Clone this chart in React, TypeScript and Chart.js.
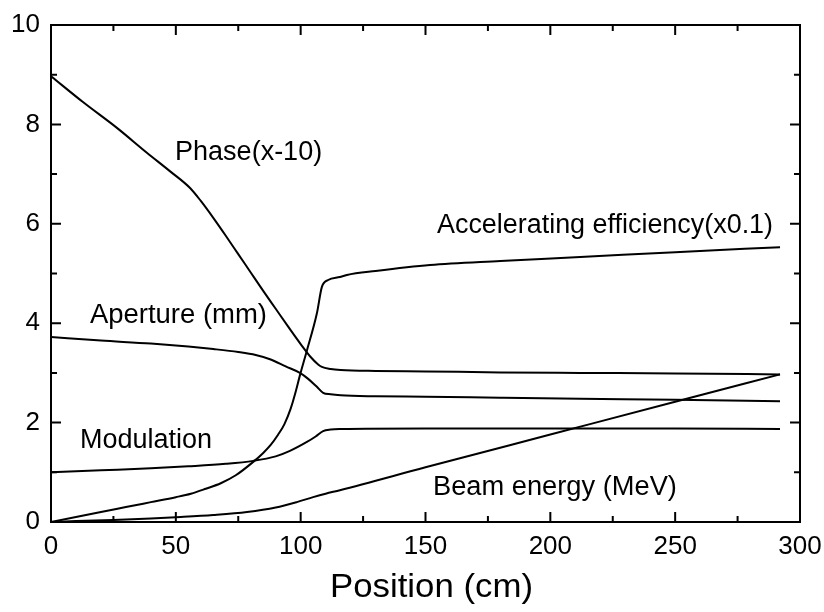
import React, { useEffect, useRef } from "react";
import { Chart, registerables } from "chart.js";

Chart.register(...registerables);

// ---- Data ----
const phaseX = [0, 12.8, 26.4, 38.4, 47.6, 55.7, 60, 65, 70, 75, 80, 85, 90, 95, 100, 104, 107, 108.5, 112, 116, 130, 150, 180, 212, 250, 292];
const phaseY = [8.97, 8.45, 7.93, 7.43, 7.06, 6.72, 6.46, 6.12, 5.76, 5.39, 5.02, 4.65, 4.29, 3.93, 3.58, 3.32, 3.17, 3.12, 3.08, 3.06, 3.04, 3.03, 3.01, 3.0, 2.99, 2.97];

const apertureX = [0, 20, 40, 55, 65, 75, 82, 88, 94, 99.7, 103, 106.5, 109, 112, 116, 130, 150, 180, 212, 250, 292];
const apertureY = [3.72, 3.65, 3.59, 3.53, 3.48, 3.42, 3.36, 3.27, 3.13, 3.0, 2.88, 2.72, 2.6, 2.57, 2.55, 2.53, 2.52, 2.5, 2.48, 2.46, 2.43];

const modulationX = [0, 20, 40, 55, 70, 81, 90, 95.7, 102.5, 106, 109, 112, 116, 150, 212, 250, 292];
const modulationY = [1.0, 1.04, 1.08, 1.12, 1.17, 1.23, 1.32, 1.43, 1.61, 1.72, 1.83, 1.86, 1.87, 1.88, 1.88, 1.88, 1.87];

const accEffX = [0, 10, 20, 30, 40, 50, 56, 62, 68, 74, 81, 85, 88, 91, 93.5, 96, 98, 99.7, 102.5, 106.5, 108.5, 111, 115.7, 118.5, 130, 151.8, 180, 212, 250, 292];
const accEffY = [0, 0.1, 0.2, 0.3, 0.4, 0.5, 0.57, 0.67, 0.78, 0.94, 1.21, 1.39, 1.55, 1.76, 1.97, 2.28, 2.62, 2.95, 3.45, 4.2, 4.73, 4.87, 4.93, 4.97, 5.05, 5.17, 5.25, 5.33, 5.43, 5.53];

const beamX = [0, 10, 25, 40, 52, 65, 78.5, 90, 98.5, 105, 110, 115.7, 150, 200, 250, 292];
const beamY = [0, 0.02, 0.04, 0.07, 0.1, 0.14, 0.2, 0.29, 0.4, 0.5, 0.57, 0.64, 1.1, 1.76, 2.42, 2.97];

const xTickValues = [0, 50, 100, 150, 200, 250, 300];
const yTickValues = [0, 2, 4, 6, 8, 10];
const xTitle = "Position (cm)";

// curve labels: text, left / right edge (x units) and baseline (y units)
const curveLabels = [
  { text: "Phase(x-10)", x0: 49.7, x1: 108.6, y: 7.28 },
  { text: "Aperture (mm)", x0: 15.6, x1: 86.5, y: 4.0 },
  { text: "Modulation", x0: 11.6, x1: 64.5, y: 1.49 },
  { text: "Accelerating efficiency(x0.1)", x0: 154.6, x1: 289.2, y: 5.81 },
  { text: "Beam energy (MeV)", x0: 153, x1: 250.7, y: 0.54 },
];

const FONT = "'Liberation Sans', Arial, Helvetica, sans-serif";

const toPoints = (xs: number[], ys: number[]) => xs.map((x, i) => ({ x, y: ys[i] }));

const framePlugin = {
  id: "frameTicks",
  afterDraw(chart: any) {
    const { ctx, chartArea } = chart;
    const xs = chart.scales.x;
    const ys = chart.scales.y;
    const { left, right, top, bottom } = chartArea;
    ctx.save();
    ctx.strokeStyle = "#000";
    ctx.lineWidth = 2;
    ctx.strokeRect(left, top, right - left, bottom - top);
    ctx.beginPath();
    for (let v = 25; v < 300; v += 25) {
      const px = xs.getPixelForValue(v);
      const len = v % 50 === 0 ? 10 : 6;
      ctx.moveTo(px, bottom);
      ctx.lineTo(px, bottom - len);
      ctx.moveTo(px, top);
      ctx.lineTo(px, top + len);
    }
    for (let v = 1; v < 10; v += 1) {
      const py = ys.getPixelForValue(v);
      const len = v % 2 === 0 ? 10 : 6;
      ctx.moveTo(left, py);
      ctx.lineTo(left + len, py);
      ctx.moveTo(right, py);
      ctx.lineTo(right - len, py);
    }
    ctx.stroke();

    ctx.fillStyle = "#000";
    ctx.textAlign = "left";
    ctx.textBaseline = "alphabetic";
    ctx.font = `27px ${FONT}`;
    curveLabels.forEach((l) => {
      const px0 = xs.getPixelForValue(l.x0);
      const px1 = xs.getPixelForValue(l.x1);
      const w = ctx.measureText(l.text).width;
      ctx.save();
      ctx.translate(px0, ys.getPixelForValue(l.y));
      ctx.scale((px1 - px0) / w, 1);
      ctx.fillText(l.text, 0, 0);
      ctx.restore();
    });

    // axis title
    ctx.font = `33px ${FONT}`;
    const tw = ctx.measureText(xTitle).width;
    ctx.save();
    ctx.translate(330, 597);
    ctx.scale(203 / tw, 1);
    ctx.fillText(xTitle, 0, 0);
    ctx.restore();
    ctx.restore();
  },
};

export default function App() {
  const canvasRef = useRef<HTMLCanvasElement | null>(null);

  useEffect(() => {
    if (!canvasRef.current) return;
    Chart.defaults.font.family = FONT;
    const mk = (label: string, xs: number[], ys: number[]) => ({
      label,
      data: toPoints(xs, ys),
      borderColor: "#000",
      borderWidth: 2,
      pointRadius: 0,
      fill: false,
      cubicInterpolationMode: "monotone" as const,
    });
    const chart = new Chart(canvasRef.current, {
      type: "line",
      data: {
        datasets: [
          mk("Phase(x-10)", phaseX, phaseY),
          mk("Aperture (mm)", apertureX, apertureY),
          mk("Modulation", modulationX, modulationY),
          mk("Accelerating efficiency(x0.1)", accEffX, accEffY),
          mk("Beam energy (MeV)", beamX, beamY),
        ],
      },
      options: {
        animation: false,
        responsive: false,
        devicePixelRatio: 1,
        layout: { padding: { top: 25, right: 24, left: 0, bottom: 0 } },
        plugins: { legend: { display: false }, tooltip: { enabled: false } },
        scales: {
          x: {
            type: "linear",
            min: 0,
            max: 300,
            afterFit: (s: any) => { s.height = 90; s.paddingLeft = 0; s.paddingRight = 0; },
            afterBuildTicks: (s: any) => { s.ticks = xTickValues.map((v) => ({ value: v })); },
            grid: { display: false, drawTicks: false },
            border: { display: false },
            ticks: { color: "#000", font: { size: 26 }, padding: 9, maxRotation: 0 },
            title: { display: false },
          },
          y: {
            type: "linear",
            min: 0,
            max: 10,
            afterFit: (s: any) => { s.width = 51; s.paddingTop = 0; s.paddingBottom = 0; },
            afterBuildTicks: (s: any) => { s.ticks = yTickValues.map((v) => ({ value: v })); },
            grid: { display: false, drawTicks: false },
            border: { display: false },
            ticks: { color: "#000", font: { size: 26 }, padding: 11 },
          },
        },
      },
      plugins: [framePlugin],
    });
    return () => chart.destroy();
  }, []);

  return (
    <div style={{ position: "absolute", left: 0, top: 0, width: 824, height: 612, background: "#fff" }}>
      <canvas ref={canvasRef} width={824} height={612} style={{ display: "block" }} />
    </div>
  );
}
